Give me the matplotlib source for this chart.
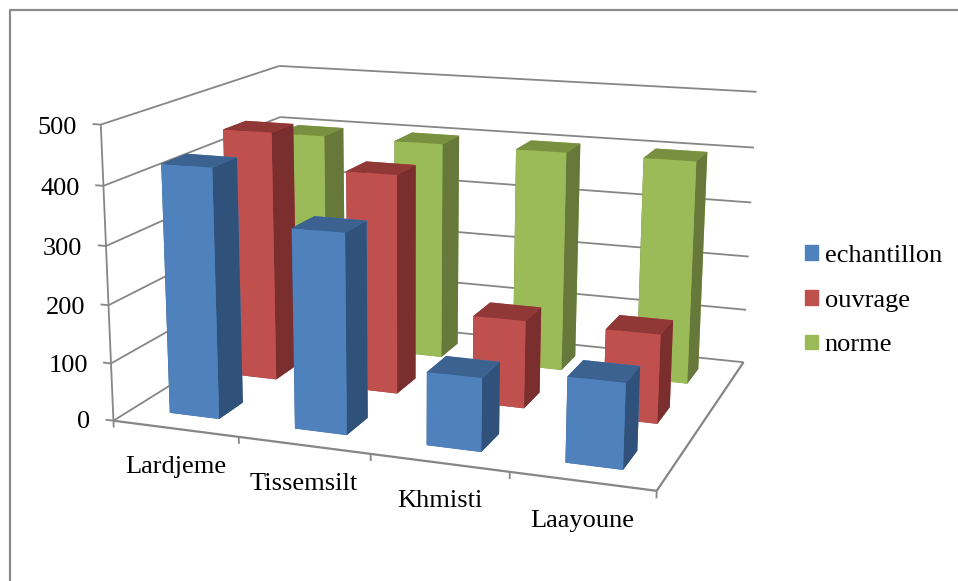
#!/usr/bin/env python3
"""3D clustered columns per site: echantillon, ouvrage and norme on a 0-500 scale."""

import matplotlib
matplotlib.use("Agg")
import matplotlib.pyplot as plt
import numpy as np
from matplotlib.lines import Line2D
from matplotlib.patches import Patch
from mpl_toolkits.mplot3d.art3d import Line3DCollection

W, H = 958, 581

sites = ["Lardjeme", "Tissemsilt", "Khmisti", "Laayoune"]
series_names = ["echantillon", "ouvrage", "norme"]
echantillon = [428, 339, 123, 141]
ouvrage = [446, 388, 154, 154]
norme = [400, 400, 400, 400]
z_ticks = [0, 100, 200, 300, 400, 500]

# front, side and top shades of each series
front = ["#4f81bd", "#c0504d", "#9bbb59"]
side = ["#30527a", "#7a2f2e", "#66793a"]
top = ["#3b6290", "#903836", "#789040"]
GRID = "#868686"

# box corners and wall ladder (x, y, z) -> pixel position, used to fit the camera
box_xyz = np.array([
    (0, 0, 0), (4, 0, 0), (4, 3, 0),
    (0, 0, 500), (0, 3, 500), (4, 3, 500),
    (0, 0, 400), (0, 0, 300), (0, 0, 200), (0, 0, 100),
    (4, 3, 400), (4, 3, 300), (4, 3, 200), (4, 3, 100), (0, 3, 400),
], float)
box_px = np.array([
    (113.5, 421.7), (656.5, 491.0), (743.0, 362.0),
    (100.7, 125.0), (279.3, 66.0), (756.3, 92.0),
    (103.3, 185.7), (106.0, 246.0), (108.7, 305.0), (111.0, 362.7),
    (754.0, 147.7), (751.3, 202.3), (748.7, 256.7), (746.3, 310.0), (280.0, 117.3),
], float)


def fit_camera(xyz, px):
    # direct linear transform, scaled so the system is well conditioned
    rows = []
    for (x, y, z), (u, v) in zip(xyz, px):
        z, u, v = z / 100, u / 100, v / 100
        rows.append([x, y, z, 1, 0, 0, 0, 0, -u * x, -u * y, -u * z, -u])
        rows.append([0, 0, 0, 0, x, y, z, 1, -v * x, -v * y, -v * z, -v])
    p = np.linalg.svd(np.array(rows))[2][-1].reshape(3, 4)
    p = np.diag([100, 100, 1]) @ p @ np.diag([1, 1, 0.01, 1])
    return p / (p[2] @ [2, 1.5, 250, 1])


fig = plt.figure(figsize=(9.581, 5.811), dpi=100, facecolor="white")
plt.rcParams["font.family"] = ["Liberation Serif"]

# square panel wider than the figure in y, so the 3D axes keep the whole canvas
ax = fig.add_axes([0, -(W - H) / 2 / H, 1, W / H], projection="3d")
ax.set_axis_off()
ax.patch.set_visible(False)
ax.computed_zorder = False

camera = fit_camera(box_xyz, box_px)


def pixel_proj():
    vx0, vx1 = ax.viewLim.intervalx
    vy0, vy1 = ax.viewLim.intervaly
    off = (W - H) / 2
    to_view = np.array([
        [(vx1 - vx0) / W, 0, vx0],
        [0, -(vy1 - vy0) / W, vy1 - off * (vy1 - vy0) / W],
        [0, 0, 1],
    ])
    m = to_view @ camera
    depth = m[2] - np.array([0, 0, 0, 1.0])
    return np.vstack([m[0], m[1], depth, m[2]])


ax.get_proj = pixel_proj

# walls, floor and ticks
thin = []
for z in z_ticks[1:]:
    thin.append([(0, 0, z), (0, 3, z)])
    thin.append([(0, 3, z), (4, 3, z)])
thin.append([(0, 0, 0), (0, 3, 0)])
thin.append([(0, 3, 0), (4, 3, 0)])
thin.append([(0, 0, 0), (0, 0, 500)])
for z in z_ticks:
    thin.append([(0, 0, z), (-0.065, 0, z)])
for i in range(5):
    thin.append([(i, 0, 0), (i, 0, -12)])
thick = [[(0, 0, 0), (4, 0, 0)], [(4, 0, 0), (4, 3, 0)]]
ax.add_collection3d(Line3DCollection(thin, colors=GRID, linewidths=1.3, zorder=1))
ax.add_collection3d(Line3DCollection(thick, colors=GRID, linewidths=1.6, zorder=1))

# back row first, left to right, so nearer columns paint over
bar_w = 0.4
bar_d = 0.4
values = [echantillon, ouvrage, norme]
for row in (2, 1, 0):
    for col in range(4):
        faces = [top[row], top[row], front[row], front[row], side[row], side[row]]
        ax.bar3d(col + (1 - bar_w) / 2, row + (1 - bar_d) / 2, 0, bar_w, bar_d,
                 values[row][col], color=faces, shade=False, linewidth=0,
                 zorder=2 + (2 - row) + col * 0.1)


def put(x, y, s, **kw):
    fig.text(x / W, 1 - y / H, s, fontsize=19, color="black", va="baseline", **kw)


for z, x, y in zip(z_ticks, [90, 87.7, 85, 82, 79.5, 77], [428, 372, 314, 255, 195, 134]):
    put(x, y, str(z), ha="right")
for name, x, y in zip(sites, [175.5, 304, 440, 582], [473, 490, 507, 527]):
    put(x, y, name, ha="center")

fig.legend(handles=[Patch(color=c, label=n) for c, n in zip(front, series_names)],
           loc="upper left", bbox_to_anchor=(805 / W, 1 - 245 / H), frameon=False,
           fontsize=19, handlelength=0.48, handleheight=0.48, handletextpad=0.26,
           labelspacing=0.86, borderpad=0, borderaxespad=0)

# chart frame, open on the right and at the bottom
fig.add_artist(Line2D([10 / W, 10 / W, 1], [0, 1 - 10 / H, 1 - 10 / H], color="#8c8c8c", lw=1.6))

fig.savefig("out.png", dpi=100)
